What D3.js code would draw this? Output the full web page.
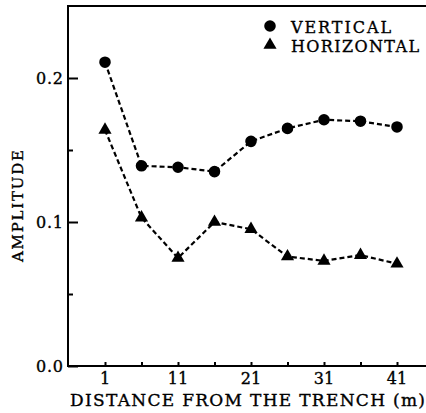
<!DOCTYPE html>
<html>
<head>
<meta charset="utf-8">
<script src="https://cdn.jsdelivr.net/npm/d3@7"></script>
<style>
  html, body { margin: 0; padding: 0; background: #fff; }
  svg { display: block; }
  text { font-family: "DejaVu Serif", "Liberation Serif", serif; fill: #000; stroke: #000; stroke-width: 0.35px; }
</style>
</head>
<body>
<svg id="chart" width="426" height="413"></svg>
<script>
// Distance from the trench (m)
const distances = [1, 6, 11, 16, 21, 26, 31, 36, 41];
// Amplitude of the vertical component
const vertical = [0.211, 0.139, 0.138, 0.135, 0.156, 0.165, 0.171, 0.170, 0.166];
// Amplitude of the horizontal component
const horizontal = [0.164, 0.103, 0.075, 0.100, 0.095, 0.076, 0.073, 0.077, 0.071];

const xTickLabels = [1, 11, 21, 31, 41];
const xMinorTicks = [6, 16, 26, 36];
const yTickLabels = [0.0, 0.1, 0.2];
const yMinorTicks = [0.05, 0.15];

const svg = d3.select("#chart");

const plotLeft = 68, plotTop = 6, plotBottom = 366, plotRight = 432;

const x = d3.scaleLinear().domain([1, 41]).range([105, 397]);
const y = d3.scaleLinear().domain([0, 0.25]).range([plotBottom, plotTop]);

// Frame: top line, left axis and bottom axis
svg.append("path")
  .attr("d", `M${plotRight},${plotTop}H${plotLeft}V${plotBottom}H${plotRight}`)
  .attr("fill", "none")
  .attr("stroke", "#000")
  .attr("stroke-width", 2);

// Y axis ticks pointing inward
const yAxis = d3.axisRight(y)
  .tickValues(yTickLabels)
  .tickSize(10)
  .tickFormat("");
svg.append("g")
  .attr("transform", `translate(${plotLeft},0)`)
  .call(yAxis)
  .call(g => g.select(".domain").remove())
  .call(g => g.selectAll("line").attr("stroke-width", 2));

const yMinor = d3.axisRight(y)
  .tickValues(yMinorTicks)
  .tickSize(5)
  .tickFormat("");
svg.append("g")
  .attr("transform", `translate(${plotLeft},0)`)
  .call(yMinor)
  .call(g => g.select(".domain").remove())
  .call(g => g.selectAll("line").attr("stroke-width", 2));

// Y tick labels
svg.append("g")
  .selectAll("text")
  .data(yTickLabels)
  .join("text")
  .attr("x", plotLeft - 5)
  .attr("y", d => y(d) + 6)
  .attr("text-anchor", "end")
  .attr("font-size", 16)
  .attr("textLength", 27)
  .attr("lengthAdjust", "spacing")
  .text(d => d.toFixed(1));

// X axis ticks pointing inward
const xAxis = d3.axisTop(x)
  .tickValues(xTickLabels.concat(xMinorTicks))
  .tickSize(4)
  .tickFormat("");
svg.append("g")
  .attr("transform", `translate(0,${plotBottom})`)
  .call(xAxis)
  .call(g => g.select(".domain").remove())
  .call(g => g.selectAll("line").attr("stroke-width", 2));

// X tick labels
svg.append("g")
  .selectAll("text")
  .data(xTickLabels)
  .join("text")
  .attr("x", d => x(d))
  .attr("y", 384)
  .attr("text-anchor", "middle")
  .attr("font-size", 16)
  .text(d => d);

// Axis titles
svg.append("text")
  .attr("x", 70)
  .attr("y", 406)
  .attr("font-size", 17)
  .attr("textLength", 355)
  .attr("lengthAdjust", "spacing")
  .text("DISTANCE FROM THE TRENCH (m)");

svg.append("text")
  .attr("transform", "translate(23,262) rotate(-90)")
  .attr("font-size", 15)
  .attr("textLength", 112)
  .attr("lengthAdjust", "spacing")
  .text("AMPLITUDE");

// Dashed connecting lines
const line = d3.line().x((d, i) => x(distances[i])).y(d => y(d));

[vertical, horizontal].forEach(series => {
  svg.append("path")
    .attr("d", line(series))
    .attr("fill", "none")
    .attr("stroke", "#000")
    .attr("stroke-width", 2.2)
    .attr("stroke-dasharray", "5,3");
});

// Markers
const circleSym = d3.symbol().type(d3.symbolCircle).size(105);
const triSym = d3.symbol().type(d3.symbolTriangle).size(75);

svg.append("g")
  .selectAll("path")
  .data(vertical)
  .join("path")
  .attr("transform", (d, i) => `translate(${x(distances[i])},${y(d)})`)
  .attr("d", circleSym)
  .attr("fill", "#000");

svg.append("g")
  .selectAll("path")
  .data(horizontal)
  .join("path")
  .attr("transform", (d, i) => `translate(${x(distances[i])},${y(d)})`)
  .attr("d", triSym)
  .attr("fill", "#000");

// Legend
const legend = svg.append("g");
legend.append("path")
  .attr("transform", "translate(270,26)")
  .attr("d", circleSym)
  .attr("fill", "#000");
legend.append("text")
  .attr("x", 291)
  .attr("y", 33)
  .attr("font-size", 16)
  .attr("textLength", 100)
  .attr("lengthAdjust", "spacing")
  .text("VERTICAL");
legend.append("path")
  .attr("transform", "translate(270,45)")
  .attr("d", triSym)
  .attr("fill", "#000");
legend.append("text")
  .attr("x", 291)
  .attr("y", 52)
  .attr("font-size", 16)
  .attr("textLength", 128)
  .attr("lengthAdjust", "spacing")
  .text("HORIZONTAL");
</script>
</body>
</html>
